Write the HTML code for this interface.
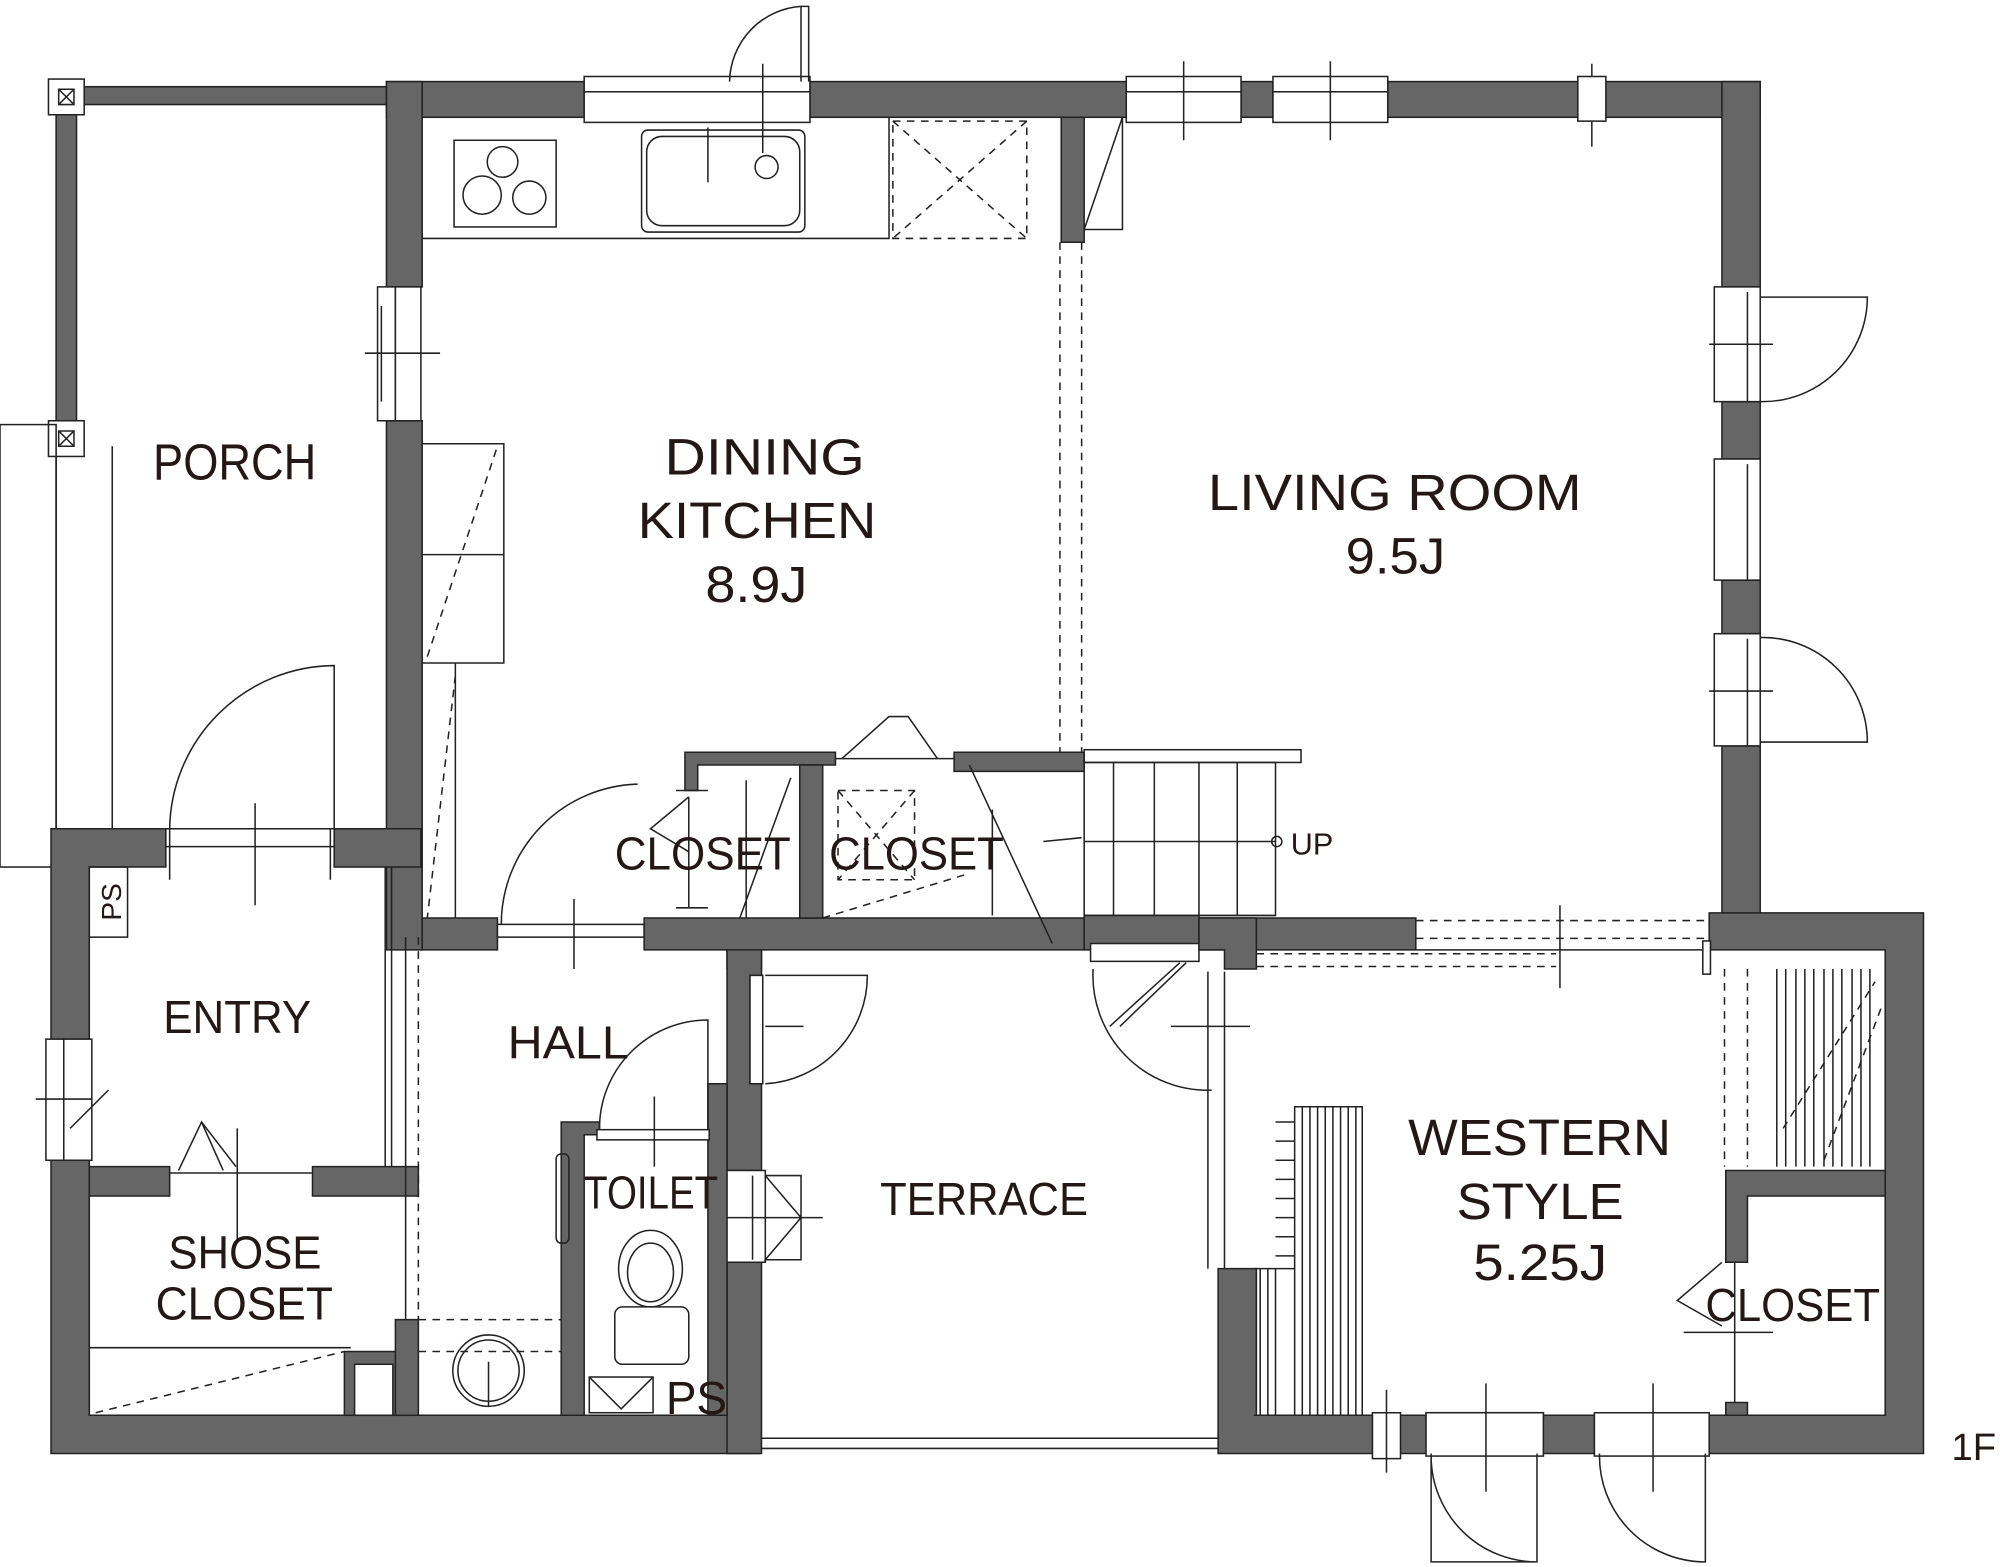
<!DOCTYPE html>
<html><head><meta charset="utf-8"><style>
html,body{margin:0;padding:0;background:#fff;}
svg{display:block;}
text{font-family:"Liberation Sans",sans-serif;fill:#231815;}
.w{fill:#666;stroke:#222;stroke-width:1.2;}
.l{fill:none;stroke:#222;stroke-width:1.2;}
.d{fill:none;stroke:#222;stroke-width:1.2;stroke-dasharray:6 5;}
.win{fill:#fff;stroke:#222;stroke-width:1.2;}
</style></head><body>
<svg width="2000" height="1567" viewBox="0 0 1568 1229" preserveAspectRatio="none" xmlns="http://www.w3.org/2000/svg">
<rect width="1568" height="1229" fill="#fff"/>

<!-- Porch -->
<rect class="w" x="44" y="68" width="259" height="14"/>
<rect class="w" x="44" y="68" width="16" height="270"/>
<rect class="win" x="38" y="62" width="28" height="28"/><path class="l" d="M46 70h12v12h-12zM46 70l12 12M58 70l-12 12"/>
<rect class="win" x="38" y="330" width="28" height="28"/><path class="l" d="M46 338h12v12h-12zM46 338l12 12M58 338l-12 12"/>
<rect class="l" x="0" y="333" width="44" height="347"/>
<path class="l" d="M44 358V650M88 350V650"/>

<!-- main top wall -->
<rect class="w" x="303" y="64" width="155" height="28"/>
<rect class="w" x="635" y="64" width="248" height="28"/>
<rect class="w" x="973" y="64" width="25" height="28"/>
<rect class="w" x="1088" y="64" width="292" height="28"/>
<rect class="win" x="458" y="60" width="177" height="12"/><rect class="win" x="458" y="72" width="177" height="24"/>
<rect class="win" x="883" y="60" width="90" height="12"/><rect class="win" x="883" y="72" width="90" height="24"/>
<rect class="win" x="998" y="60" width="90" height="12"/><rect class="win" x="998" y="72" width="90" height="24"/>
<path class="l" d="M928 48V110M1043 48V110M598 50V120M1248 50V115"/>
<rect class="win" x="1237" y="60" width="22" height="35"/>
<!-- top door -->
<path class="l" d="M572 64A60 60 0 0 1 628 5V64M628 5h6v59"/>

<!-- kitchen left wall -->
<rect class="w" x="303" y="64" width="28" height="161"/>
<rect class="w" x="303" y="330" width="28" height="415"/>
<rect class="win" x="296" y="225" width="14" height="105"/><rect class="win" x="310" y="225" width="20" height="105"/>
<path class="l" d="M286 277H345M299 240V315"/>

<!-- counter & fixtures -->
<path class="l" d="M331 187H697V92M697 92V187"/>
<rect class="l" x="356" y="110" width="80" height="68"/>
<circle class="l" cx="394" cy="127" r="12"/><circle class="l" cx="378" cy="153" r="15"/><circle class="l" cx="415" cy="155" r="13"/>
<rect class="l" x="503" y="102" width="128" height="80" rx="5"/><rect class="l" x="507" y="107" width="120" height="70" rx="12"/>
<path class="l" d="M555 100V143"/><circle class="l" cx="601" cy="131" r="9"/>
<rect class="d" x="700" y="95" width="105" height="92"/><path class="d" d="M700 95L805 187M805 95L700 187"/>
<!-- fridge/ small wall -->
<rect class="w" x="832" y="92" width="18" height="98"/>
<path class="l" d="M850 180L880 92V180H850"/>
<path class="d" d="M831 190V590M848 190V590"/>
<!-- dining cabinet -->
<path class="l" d="M331 348H395V520H331M331 435H395"/><path class="d" d="M335 515L390 350"/>
<path class="l" d="M357 520V720"/><path class="d" d="M357 530L335 720"/>

<!-- living right wall -->
<rect class="w" x="1350" y="64" width="30" height="161"/>
<rect class="w" x="1350" y="315" width="30" height="45"/>
<rect class="w" x="1350" y="455" width="30" height="42"/>
<rect class="w" x="1350" y="585" width="30" height="145"/>
<rect class="win" x="1344" y="225" width="36" height="90"/><rect class="win" x="1344" y="360" width="36" height="95"/><rect class="win" x="1344" y="497" width="36" height="88"/>
<path class="l" d="M1370 229V315M1370 364V455M1370 501V585"/>
<path class="l" d="M1380 233H1464A82 82 0 0 1 1380 315M1380 500A82 82 0 0 1 1464 582H1380"/>
<path class="l" d="M1340 270H1390M1340 542H1390"/>

<!-- extension (western) -->
<path class="w" d="M1340 716H1508V1140H955V995H985V1110H1478V745H1340Z"/>
<rect class="w" x="1118" y="1108" width="92" height="6" fill="#fff" style="fill:#fff"/>
<rect class="win" x="1118" y="1108" width="92" height="34"/>
<rect class="win" x="1250" y="1108" width="90" height="34"/>
<path class="l" d="M1122 1140V1225H1205V1140M1205 1225A83 83 0 0 1 1122 1142M1254 1140A83 83 0 0 0 1337 1225V1140M1165 1085V1170M1296 1085V1170"/>
<rect class="win" x="1076" y="1108" width="22" height="36"/><path class="l" d="M1087 1090V1155"/>
<!-- western top wall -->
<rect class="w" x="940" y="720" width="170" height="25"/>
<path class="d" d="M1110 722H1340M1110 736H1340M985 748H1220M985 758H1220"/>
<path class="l" d="M1110 745H1340M1223 710V775"/>
<rect class="win" x="1335" y="738" width="6" height="26"/>
<!-- western left windows -->
<path class="l" d="M947 762V995M960 762V995"/>
<path class="l" d="M950 855A90 90 0 0 1 857 760M870 805L925 755"/><path class="l" d="M918 805H980"/>
<!-- bed-like furniture -->
<path class="l" d="M1015 868H1068V1110H1015ZM983 995H1015V1110H983"/>
<path class="l" d="M1021 868V1110M1027 868V1110M1033 868V1110M1039 868V1110M1045 868V1110M1051 868V1110M1057 868V1110M1063 868V1110M988 995V1110M994 995V1110M1000 995V1110"/>
<path class="l" d="M1000 880H1015M1000 895H1015M1000 910H1015M1000 925H1015M1000 940H1015M1000 955H1015M1000 970H1015M1000 985H1015"/>
<!-- wardrobe -->
<path class="d" d="M1352 760V915M1370 760V915"/>
<path class="l" d="M1393 760V915M1400 760V915M1408 760V915M1415 760V915M1422 760V915M1430 760V915M1437 760V915M1444 760V915M1452 760V915M1459 760V915M1466 760V915"/>
<path class="d" d="M1398 885L1470 770M1430 910L1475 790"/>
<!-- western closet -->
<path class="w" d="M1353 918H1478V938H1370V990H1353ZM1353 1100H1370V1110H1353Z"/>
<path class="l" d="M1360 990V1100M1350 990L1315 1020L1350 1040M1320 1045H1390"/>

<!-- left block walls -->
<path class="w" d="M40 650H130V680H70V815H40Z"/>
<rect class="w" x="262" y="650" width="68" height="30"/>
<rect class="win" x="130" y="650" width="132" height="14"/><path class="l" d="M133 650V690M259 650V690M200 630V710"/>
<path class="w" d="M40 910H70V1110H595V1140H40Z"/>
<rect class="win" x="36" y="815" width="14" height="95"/><rect class="win" x="50" y="815" width="22" height="95"/>
<path class="l" d="M28 862H72M55 885L85 855"/>
<path class="l" d="M133 650A130 130 0 0 1 262 522V650"/>
<rect class="l" x="70" y="680" width="30" height="55"/>
<path class="w" d="M70 915H133V938H70ZM245 915H328V938H245Z"/>
<path class="l" d="M133 920H245M140 918L158 880L175 918M158 880L185 915M186 885V975"/>
<path class="l" d="M302 680V915M307 680V915"/>
<path class="l" d="M70 1057H275M70 1110V1057"/><path class="d" d="M75 1108L270 1060"/>
<rect class="w" x="270" y="1060" width="45" height="50"/><rect class="win" x="278" y="1070" width="30" height="40"/>
<rect class="w" x="310" y="1035" width="18" height="75"/>
<path class="l" d="M318 735V1035"/>
<path class="d" d="M328 735V1035M328 1035H440M328 1060H440"/>
<circle class="l" cx="383" cy="1075" r="28"/><circle class="l" cx="383" cy="1075" r="24"/><path class="l" d="M383 1068V1103"/>

<!-- hall top wall -->
<path class="w" d="M331 720H390V745H331Z"/>
<rect class="win" x="390" y="725" width="115" height="10"/>
<path class="l" d="M393 725A110 110 0 0 1 500 615M450 705V760"/>
<path class="w" d="M505 720H850V745H597V760H570V745H505Z"/>
<!-- closets block -->
<path class="w" d="M537 590H655V600H547V620H537Z"/>
<path class="w" d="M748 590H850V605H748Z"/>
<rect class="w" x="627" y="600" width="18" height="120"/>
<path class="l" d="M655 595H748M660 595L697 562L712 562L735 595"/>
<path class="l" d="M540 625V712M530 620H555M530 712H555M540 625L510 650L540 668M585 612V720M580 720L620 610"/>
<rect class="d" x="657" y="620" width="60" height="70"/><path class="d" d="M657 620L717 690M717 620L657 690M645 720L760 685"/>
<path class="l" d="M778 635V718M760 600L825 740"/>
<!-- stairs -->
<rect class="l" x="850" y="588" width="170" height="10"/>
<rect class="l" x="850" y="598" width="150" height="120"/>
<path class="l" d="M873 598V718M905 598V718M940 598V718M970 598V718M850 660H1000M818 660L848 657"/>
<circle class="l" cx="1001" cy="660" r="4"/>
<path class="l" d="M850 718H1000"/>
<!-- terrace door area -->
<rect class="w" x="850" y="718" width="90" height="27"/>
<rect class="win" x="855" y="740" width="85" height="14"/>
<path class="l" d="M930 755L878 805"/>
<path class="w" d="M940 720H985V760H960V745H940Z"/>

<!-- hall right wall (terrace left) -->
<path class="w" d="M570 745H597V765H588V850H597V918H570ZM570 990H597V1140H570Z"/>
<rect class="win" x="588" y="765" width="10" height="85"/>
<path class="l" d="M600 765H680A85 85 0 0 1 600 850M600 805H630"/>
<rect class="win" x="565" y="918" width="35" height="72"/><path class="l" d="M590 922V988M600 922H628V988H600L628 955L600 922M560 955H645"/>
<path class="l" d="M597 1128H955M597 1136H955"/>
<!-- toilet -->
<path class="w" d="M440 880H470V890H458V1110H440Z"/>
<path class="w" d="M555 850H570V1110H555Z"/>
<rect class="win" x="468" y="886" width="88" height="8"/>
<path class="l" d="M470 885A85 85 0 0 1 555 800V885M513 860V915"/>
<rect class="l" x="436" y="905" width="10" height="70" rx="4"/>
<ellipse class="l" cx="510" cy="995" rx="25" ry="30"/><ellipse class="l" cx="510" cy="998" rx="18" ry="23"/>
<rect class="l" x="482" y="1025" width="58" height="45" rx="6"/>
<rect class="l" x="462" y="1080" width="50" height="28"/><path class="l" d="M462 1080L487 1105L512 1080"/>

<!-- labels -->
<g font-size="40">
<text x="120" y="376" textLength="128" lengthAdjust="spacingAndGlyphs">PORCH</text>
<text x="521" y="372" textLength="157" lengthAdjust="spacingAndGlyphs">DINING</text>
<text x="500" y="422" textLength="187" lengthAdjust="spacingAndGlyphs">KITCHEN</text>
<text x="553" y="472" textLength="80" lengthAdjust="spacingAndGlyphs">8.9J</text>
<text x="947" y="400" textLength="293" lengthAdjust="spacingAndGlyphs">LIVING ROOM</text>
<text x="1055" y="450" textLength="78" lengthAdjust="spacingAndGlyphs">9.5J</text>
<text x="128" y="810" font-size="36" textLength="116" lengthAdjust="spacingAndGlyphs">ENTRY</text>
<text x="398" y="830" font-size="36" textLength="95" lengthAdjust="spacingAndGlyphs">HALL</text>
<text x="458" y="948" font-size="36" textLength="105" lengthAdjust="spacingAndGlyphs">TOILET</text>
<text x="690" y="953" font-size="36" textLength="163" lengthAdjust="spacingAndGlyphs">TERRACE</text>
<text x="1104" y="906" textLength="206" lengthAdjust="spacingAndGlyphs">WESTERN</text>
<text x="1142" y="956" textLength="131" lengthAdjust="spacingAndGlyphs">STYLE</text>
<text x="1155" y="1004" textLength="105" lengthAdjust="spacingAndGlyphs">5.25J</text>
<text x="132" y="995" font-size="36" textLength="120" lengthAdjust="spacingAndGlyphs">SHOSE</text>
<text x="122" y="1035" font-size="36" textLength="139" lengthAdjust="spacingAndGlyphs">CLOSET</text>
<text x="482" y="682" font-size="36" textLength="138" lengthAdjust="spacingAndGlyphs">CLOSET</text>
<text x="650" y="682" font-size="36" textLength="137" lengthAdjust="spacingAndGlyphs">CLOSET</text>
<text x="1337" y="1036" font-size="36" textLength="137" lengthAdjust="spacingAndGlyphs">CLOSET</text>
<text x="522" y="1109" font-size="36">PS</text>
<text x="1012" y="670" font-size="24">UP</text>
<text x="1530" y="1145" font-size="30">1F</text>
<text transform="translate(95,722) rotate(-90)" font-size="22">PS</text>
</g>
</svg>
</body></html>
